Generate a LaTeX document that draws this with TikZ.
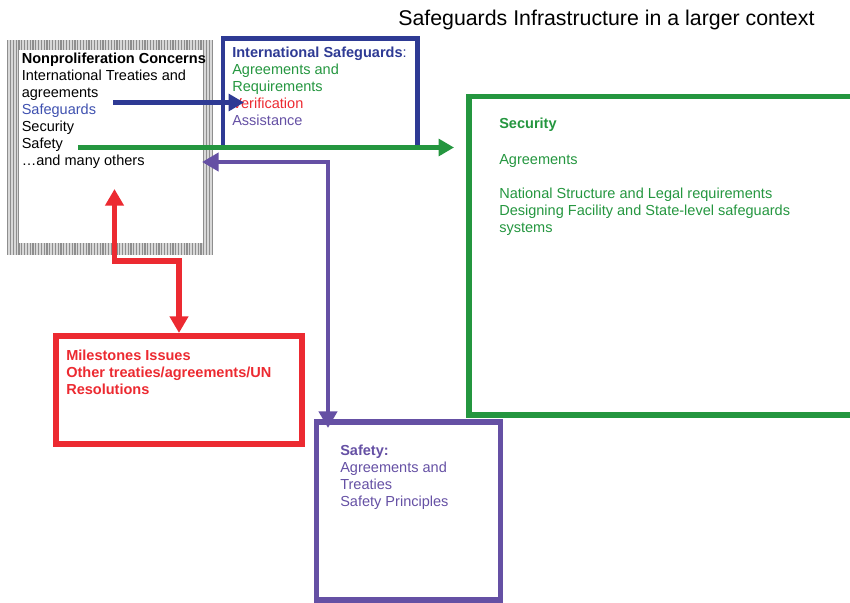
\documentclass[tikz,border=0pt]{standalone}
\usepackage{fontspec}
\setmainfont{Liberation Sans}
\usetikzlibrary{arrows.meta}
\definecolor{sgblue}{HTML}{2E3A94}
\definecolor{sglblue}{HTML}{3F51B0}
\definecolor{sggreen}{HTML}{24963F}
\definecolor{sgred}{HTML}{EC2A31}
\definecolor{sgpurple}{HTML}{6550A4}
\definecolor{sgdgray}{HTML}{8E8E8E}
\definecolor{sglgray}{HTML}{D8D8D8}
\begin{document}
\begin{tikzpicture}[x=0.75pt,y=-0.75pt,
  box/.style={draw=#1, line width=4.2pt, anchor=north west, inner sep=0pt, outer sep=0pt, fill=none},
  ln/.style={anchor=base west, inner sep=0pt, font=\fontsize{10.9}{12.75}\selectfont},
  conn/.style={draw=#1, line width=3.2pt, -{Triangle[length=11.5pt,width=12.5pt,fill=#1]}},
  dconn/.style={draw=#1, line width=3.6pt, {Triangle[length=12.5pt,width=13.5pt,fill=#1]}-{Triangle[length=12.5pt,width=13.5pt,fill=#1]}}]
\useasboundingbox (0,0) rectangle (850,603);
\clip (0,0) rectangle (850,603);

% title
\node[anchor=base west, inner sep=0pt, font=\fontsize{16}{19}\selectfont] (title) at (398,26) {Safeguards Infrastructure in a larger context};

% Nonproliferation box (striped frame)
\node[anchor=north west, inner sep=0pt, outer sep=0pt, minimum width=154.5pt, minimum height=161.25pt] (np) at (7,40) {};
\begin{scope}
  \clip (7,40) rectangle (213,255);
  \fill[sglgray] (7,40) rectangle (213,255);
  \foreach \xx in {7.8,10.6,...,213} { \draw[sgdgray, line width=0.9pt] (\xx,40) -- (\xx,255); }
\end{scope}
\fill[white] (18.5,50) rectangle (203,242.5);
\begin{scope}
  \clip (18.5,50) rectangle (206,242.5);
  \node[ln, font=\fontsize{10.9}{12.75}\selectfont\bfseries] (np1) at (21.5,63) {Nonproliferation Concerns};
\end{scope}
\node[ln] (np2) at (21.5,80) {International Treaties and};
\node[ln] (np3) at (21.5,97) {agreements};
\node[ln, text=sglblue] (np4) at (21.5,114) {Safeguards};
\node[ln] (np5) at (21.5,131) {Security};
\node[ln] (np6) at (21.5,148) {Safety};
\node[ln] (np7) at (21.5,165) {\dots and many others};

% International safeguards box
\node[box=sgblue, line width=3.3pt, minimum width=145.9pt, minimum height=81.4pt] (isg) at (223,38.5) {};
\node[ln, text=sgblue, font=\fontsize{10.9}{12.75}\selectfont\bfseries] (isg1) at (232,57) {International Safeguards\textmd{:}};
\node[ln, text=sggreen] (isg2) at (232,74) {Agreements and};
\node[ln, text=sggreen] (isg3) at (232,91) {Requirements};
\node[ln, text=sgred] (isg4) at (232,108) {Verification};
\node[ln, text=sgpurple] (isg5) at (232,125) {Assistance};

% Security box
\node[box=sggreen, minimum width=300.75pt, minimum height=238.9pt] (sec) at (469,96.5) {};
\node[ln, text=sggreen, font=\fontsize{10.9}{12.75}\selectfont\bfseries] (sec1) at (499,128) {Security};
\node[ln, text=sggreen] (sec2) at (499,164) {Agreements};
\node[ln, text=sggreen] (sec3) at (499,198) {National Structure and Legal requirements};
\node[ln, text=sggreen] (sec4) at (499,215) {Designing Facility and State-level safeguards};
\node[ln, text=sggreen] (sec5) at (499,232) {systems};

% Milestones box
\node[box=sgred, line width=4.6pt, minimum width=184.5pt, minimum height=81pt] (ms) at (56,336) {};
\node[ln, text=sgred, font=\fontsize{10.9}{12.75}\selectfont\bfseries] (ms1) at (66,360) {Milestones Issues};
\node[ln, text=sgred, font=\fontsize{10.9}{12.75}\selectfont\bfseries] (ms2) at (66,377) {Other treaties/agreements/UN};
\node[ln, text=sgred, font=\fontsize{10.9}{12.75}\selectfont\bfseries] (ms3) at (66,394) {Resolutions};

% Safety box
\node[box=sgpurple, minimum width=138pt, minimum height=133.5pt] (saf) at (316.5,422) {};
\node[ln, text=sgpurple, font=\fontsize{10.9}{12.75}\selectfont\bfseries] (saf1) at (340,455) {Safety:};
\node[ln, text=sgpurple] (saf2) at (340,472) {Agreements and};
\node[ln, text=sgpurple] (saf3) at (340,489) {Treaties};
\node[ln, text=sgpurple] (saf4) at (340,506) {Safety Principles};

% connector end points
\coordinate (bS) at (113,102.5);
\coordinate (bE) at (244,102.5);
\coordinate (gS) at (78,147.5);
\coordinate (gE) at (454,147.5);
\coordinate (pA) at (202,162);
\coordinate (pC) at (328,162);
\coordinate (pB) at (328,428);
\coordinate (rA) at (114.5,189);
\coordinate (rC1) at (114.5,261);
\coordinate (rC2) at (179,261);
\coordinate (rB) at (179,333);

% connectors
\draw[conn=sggreen] (gS) -- (gE);
\draw[conn=sgblue] (bS) -- (bE);
\draw[dconn=sgpurple, line width=3.4pt] (pA) -- (pC) -- (pB);
\draw[dconn=sgred, line width=4.4pt] (rA) -- (rC1) -- (rC2) -- (rB);
\end{tikzpicture}
\end{document}
